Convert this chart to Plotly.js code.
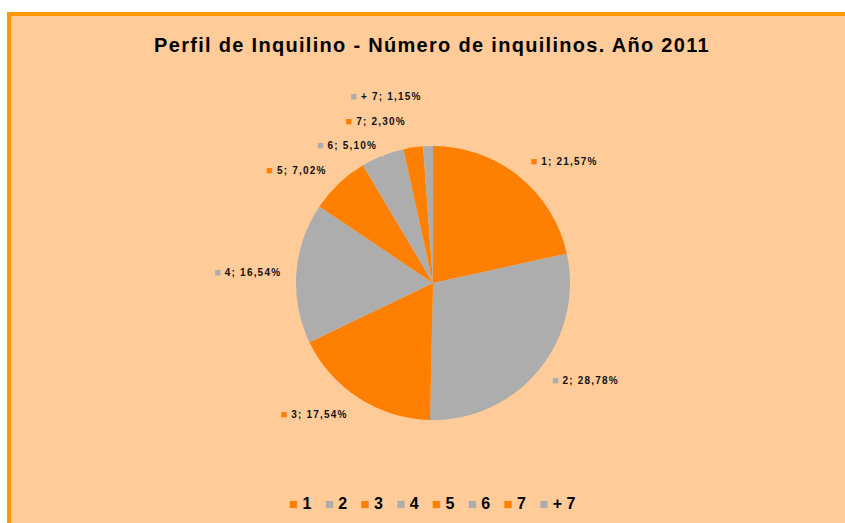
<!DOCTYPE html>
<html>
<head>
<meta charset="utf-8">
<script src="https://cdn.plot.ly/plotly-3.0.1.min.js"></script>
<style>
  html, body { margin:0; padding:0; background:#ffffff; width:845px; height:523px; overflow:hidden; }
  #frame { position:absolute; left:7px; top:12px; width:834px; height:507px;
           border-left:4px solid #FF9900; border-top:4px solid #FF9900; background:#FFCC99; }
  #chart { position:absolute; left:0; top:0; width:834px; height:507px; }
</style>
</head>
<body>
<div id="frame"><div id="chart"></div></div>
<script>
// ---- data ----
const titleText = 'Perfil de Inquilino - Número de inquilinos. Año 2011';
const labels = ['1', '2', '3', '4', '5', '6', '7', '+ 7'];
const values = [21.57, 28.78, 17.54, 16.54, 7.02, 5.10, 2.30, 1.15];

// ---- style ----
const sliceColors = ['#FF8000', '#ADADAD', '#FF8000', '#ADADAD', '#FF8000', '#ADADAD', '#FF8000', '#ADADAD'];
const labelPull = [0.0815, 0.0815, 0.0815, 0.0815, 0.0815, 0, 0.0815, 0.0815];
const bg = '#FFCC99';
const font = 'Liberation Sans, Arial, sans-serif';

// label = colored key square + "label; percent"; invisible padding lines above/below
const padTop = '<span style="font-size:8.5px;color:rgba(0,0,0,0)">&nbsp;</span>';
const padBot = '<span style="font-size:3.3px;color:rgba(0,0,0,0)">&nbsp;</span>';
const labelTemplates = labels.map((l, i) =>
  padTop + '<br>' +
  `<span style="color:${sliceColors[i]};font-size:11px">■</span>` +
  `<span style="font-size:10px;color:#111111;letter-spacing:1.2px"> %{label}; %{percent:.2%}</span>` +
  '<br>' + padBot);

const mainPie = {
  type: 'pie',
  labels: labels,
  values: values,
  sort: false,
  direction: 'clockwise',
  rotation: 0,
  textinfo: 'none',
  hoverinfo: 'none',
  showlegend: false,
  marker: { colors: sliceColors, line: { width: 0 } },
  domain: { x: [0.34173, 0.67026], y: [0.20316, 0.74359] }
};

const labelPie = {
  type: 'pie',
  labels: labels,
  values: values,
  sort: false,
  direction: 'clockwise',
  rotation: 0,
  pull: labelPull,
  textposition: 'outside',
  texttemplate: labelTemplates,
  outsidetextfont: { family: font, size: 6, color: bg, weight: 'bold' },
  hoverinfo: 'none',
  showlegend: false,
  marker: { colors: labels.map(() => 'rgba(0,0,0,0)'), line: { width: 0 } },
  domain: { x: [0.33094, 0.68106], y: [0.18540, 0.76134] }
};

const legendGap = '&nbsp;&nbsp;<span style="font-size:16px">&nbsp;</span>';
const legendText = labels.map((l, i) =>
  `<span style="color:${sliceColors[i]};font-size:15px">■</span> ${l}`).join(legendGap);

const layout = {
  width: 834,
  height: 507,
  margin: { l: 0, r: 0, t: 0, b: 0 },
  paper_bgcolor: bg,
  plot_bgcolor: bg,
  separators: ',.',
  title: {
    text: `<span style="letter-spacing:1.3px">${titleText}</span>`,
    x: 0.5048, xanchor: 'center',
    y: 0.9428, yanchor: 'middle', yref: 'container',
    font: { family: font, size: 20, color: '#000000', weight: 'bold' }
  },
  annotations: [{
    text: legendText,
    xref: 'paper', yref: 'paper',
    x: 0.5048, y: 0.0394, xanchor: 'center', yanchor: 'middle',
    showarrow: false,
    font: { family: font, size: 16, color: '#000000', weight: 'bold' }
  }]
};

Plotly.newPlot('chart', [mainPie, labelPie], layout, { displayModeBar: false, staticPlot: true });
</script>
</body>
</html>
